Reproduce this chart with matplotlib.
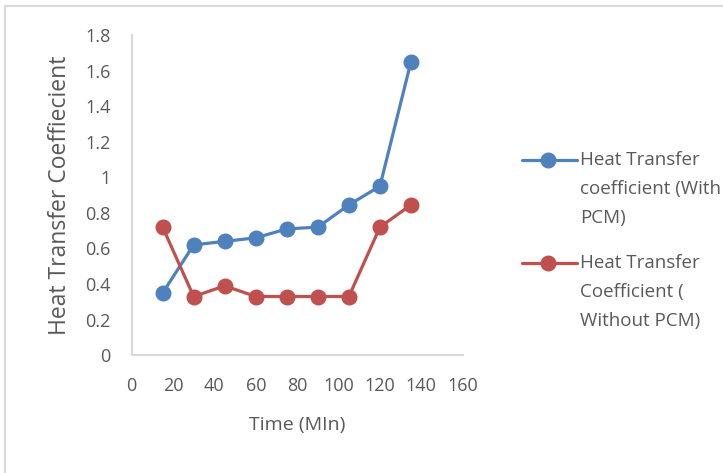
import matplotlib.pyplot as plt
from matplotlib.patches import Rectangle

time_min = [15, 30, 45, 60, 75, 90, 105, 120, 135]
htc_with_pcm = [0.35, 0.62, 0.64, 0.66, 0.71, 0.72, 0.845, 0.95, 1.65]
htc_without_pcm = [0.72, 0.33, 0.39, 0.33, 0.33, 0.33, 0.33, 0.72, 0.845]

label_with = ["Heat Transfer", "coefficient (With", "PCM)"]
label_without = ["Heat Transfer", "Coefficient (", "Without PCM)"]

blue = "#4F81BD"
red = "#C0504D"
grey = "#595959"

plt.rcParams['font.family'] = ['Open Sans', 'DejaVu Sans']

fig = plt.figure(figsize=(7.23, 4.73), dpi=100)
ax = fig.add_axes([0.182, 0.249, 0.458, 0.677])

ax.plot(time_min, htc_with_pcm, color=blue, lw=2.3, marker='o', ms=10.5)
ax.plot(time_min, htc_without_pcm, color=red, lw=2.3, marker='o', ms=10.5)

ax.set_xlim(0, 160)
ax.set_ylim(0, 1.8)
ax.set_xticks(range(0, 161, 20))
ax.set_yticks([0, 0.2, 0.4, 0.6, 0.8, 1, 1.2, 1.4, 1.6, 1.8])
ax.set_yticklabels(['0', '0.2', '0.4', '0.6', '0.8', '1', '1.2', '1.4', '1.6', '1.8'])
ax.tick_params(length=0, labelsize=13, colors=grey)
ax.tick_params(axis='x', pad=16)
ax.tick_params(axis='y', pad=15)
for s in ['top', 'right']:
    ax.spines[s].set_visible(False)
for s in ['left', 'bottom']:
    ax.spines[s].set_color('#d9d9d9')
    ax.spines[s].set_linewidth(1.5)

ax.set_xlabel("Time (MIn)", fontsize=14, color=grey, labelpad=15)
ax.set_ylabel("Heat Transfer Coeffiecient", fontsize=16.5, color=grey)
ax.yaxis.set_label_coords(-0.18, 0.5)

# legend drawn by hand so it can run off the right edge like the original
lax = fig.add_axes([0, 0, 1, 1], facecolor='none')
lax.set_xlim(0, 723)
lax.set_ylim(473, 0)
lax.axis('off')
for y, c, lines in [(160, blue, label_with), (263, red, label_without)]:
    lax.plot([522, 577], [y, y], color=c, lw=2.3, solid_capstyle='round')
    lax.plot([548], [y], 'o', color=c, ms=10.5)
    for i, txt in enumerate(lines):
        lax.text(580, y + 29 * i, txt, fontsize=13.5, color=grey, va='center', ha='left')

fig.patches.append(Rectangle((5 / 723, -0.1), 1.0, 1.1 - 6 / 473,
                             transform=fig.transFigure, fill=False,
                             edgecolor='#d9d9d9', lw=1.5))

fig.savefig("out.png", dpi=100)
